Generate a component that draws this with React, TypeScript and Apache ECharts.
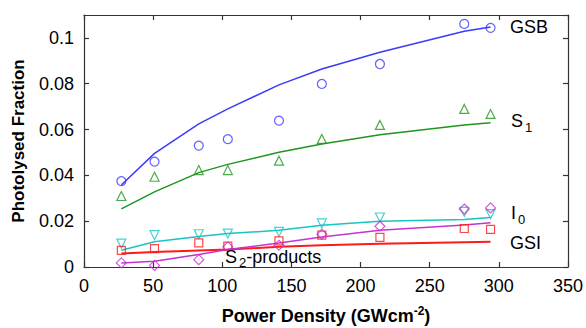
import React, { useEffect, useRef } from "react";
import * as echarts from "echarts";

const xVals = [27, 51, 83, 104, 141, 172, 214, 275, 294];
const gsbData = [0.0375, 0.046, 0.053, 0.0558, 0.0639, 0.0799, 0.0886, 0.1061, 0.1044];
const gsbFit = [0.0358, 0.0496, 0.0625, 0.069, 0.0795, 0.0864, 0.0937, 0.1029, 0.1048];
const s1Data = [0.031, 0.0394, 0.0423, 0.0423, 0.0464, 0.0559, 0.062, 0.069, 0.0668];
const s1Fit = [0.0254, 0.0328, 0.0412, 0.0448, 0.0501, 0.0537, 0.0577, 0.062, 0.063];
const i0Data = [0.0102, 0.0139, 0.0143, 0.0146, 0.0153, 0.019, 0.0216, 0.0241, 0.0231];
const i0Fit = [0.0073, 0.011, 0.0133, 0.0146, 0.016, 0.0182, 0.02, 0.0207, 0.0216];
const gsiData = [0.0073, 0.008, 0.0105, 0.0091, 0.0114, 0.0139, 0.0129, 0.0168, 0.0164];
const gsiFit = [0.0059, 0.0065, 0.0072, 0.0076, 0.0088, 0.0095, 0.0102, 0.0108, 0.011];
const s2Data = [0.0018, 0.0007, 0.0032, 0.0088, 0.0095, 0.0143, 0.0178, 0.0253, 0.0258];
const s2Fit = [0.0018, 0.0025, 0.0055, 0.0076, 0.0105, 0.0131, 0.016, 0.0183, 0.0193];

const FONT = "'Liberation Sans', Arial, sans-serif";

const pairs = (ys: number[]) => xVals.map((x, i) => [x, ys[i]]);

export default function App() {
  const ref = useRef<HTMLDivElement>(null);
  useEffect(() => {
    if (!ref.current) return;
    const chart = echarts.init(ref.current, undefined, { renderer: "svg" });
    const axisCommon = {
      axisLine: { show: true, onZero: false, lineStyle: { color: "#333", width: 1.2 } },
      axisTick: { show: true, inside: true, length: 5, lineStyle: { color: "#333", width: 1.2 } },
      splitLine: { show: false },
    };
    const scatter = (data: number[], color: string, symbol: string, rotate = 0, size = 9) => ({
      type: "scatter",
      data: pairs(data),
      symbol,
      symbolSize: size,
      symbolRotate: rotate,
      itemStyle: { color: "rgba(255,255,255,0)", borderColor: color, borderWidth: 1.2 },
      z: 3,
    });
    const line = (data: number[], color: string, width = 1.5) => ({
      type: "line",
      data: pairs(data),
      showSymbol: false,
      lineStyle: { color, width },
      z: 2,
    });
    const blue = "#3a3aff";
    const green = "#1f951f";
    const cyan = "#19c4c4";
    const red = "#ff1a1a";
    const magenta = "#c832d2";
    const sub = (pad: number) => ({
      a: { fontSize: 18, fontFamily: FONT, fill: "#000" },
      s: { fontSize: 13, fontFamily: FONT, fill: "#000", padding: [pad, 0, 0, 2] },
    });
    chart.setOption({
      animation: false,
      grid: { left: 84, right: 18, top: 15, bottom: 61 },
      xAxis: [
        {
          type: "value",
          min: 0,
          max: 350,
          interval: 50,
          ...axisCommon,
          axisLabel: { color: "#000", fontSize: 18, fontFamily: FONT, margin: 10 },
        },
        {
          type: "value",
          position: "top",
          min: 0,
          max: 350,
          interval: 50,
          ...axisCommon,
          axisLabel: { show: false },
        },
      ],
      yAxis: [
        {
          type: "value",
          min: 0,
          max: 0.11,
          interval: 0.02,
          ...axisCommon,
          axisLabel: { color: "#000", fontSize: 18, fontFamily: FONT, margin: 10, showMaxLabel: false },
        },
        {
          type: "value",
          position: "right",
          min: 0,
          max: 0.11,
          interval: 0.02,
          ...axisCommon,
          axisLabel: { show: false },
        },
      ],
      series: [
        line(gsbFit, blue),
        line(s1Fit, green),
        line(i0Fit, cyan),
        line(gsiFit, red, 2),
        line(s2Fit, magenta),
        scatter(gsbData, blue, "circle"),
        scatter(s1Data, green, "triangle"),
        scatter(i0Data, cyan, "triangle", 180),
        scatter(gsiData, red, "rect", 0, 8),
        scatter(s2Data, magenta, "diamond", 0, 10),
      ],
      graphic: [
        {
          type: "text",
          x: 18,
          y: 141,
          rotation: Math.PI / 2,
          style: {
            text: "Photolysed Fraction",
            font: `bold 17px ${FONT}`,
            align: "center",
            verticalAlign: "middle",
            fill: "#000",
          },
        },
        {
          type: "text",
          x: 326,
          y: 316,
          style: {
            text: "{a|Power Density (GWcm}{s|-2}{a|)}",
            align: "center",
            verticalAlign: "middle",
            rich: {
              a: { font: `bold 18px ${FONT}`, fill: "#000" },
              s: { font: `bold 12px ${FONT}`, fill: "#000", padding: [0, 0, 11, 0] },
            },
          },
        },
        {
          type: "text",
          x: 510,
          y: 27,
          style: { fontSize: 18, fontFamily: FONT, fill: "#000", text: "GSB", verticalAlign: "middle" },
        },
        {
          type: "text",
          x: 511,
          y: 121,
          style: { text: "{a|S}{s|1}", verticalAlign: "middle", rich: sub(12) },
        },
        {
          type: "text",
          x: 511,
          y: 213,
          style: { text: "{a|I}{s|0}", verticalAlign: "middle", rich: sub(12) },
        },
        {
          type: "text",
          x: 510,
          y: 243,
          style: { fontSize: 18, fontFamily: FONT, fill: "#000", text: "GSI", verticalAlign: "middle" },
        },
        {
          type: "text",
          x: 225,
          y: 257,
          z: 10,
          style: { text: "{a|S}{s|2}{a|-products}", verticalAlign: "middle", rich: sub(11) },
        },
      ],
    });
    return () => chart.dispose();
  }, []);
  return <div ref={ref} style={{ width: 586, height: 328, position: "absolute", left: 0, top: 0 }} />;
}
